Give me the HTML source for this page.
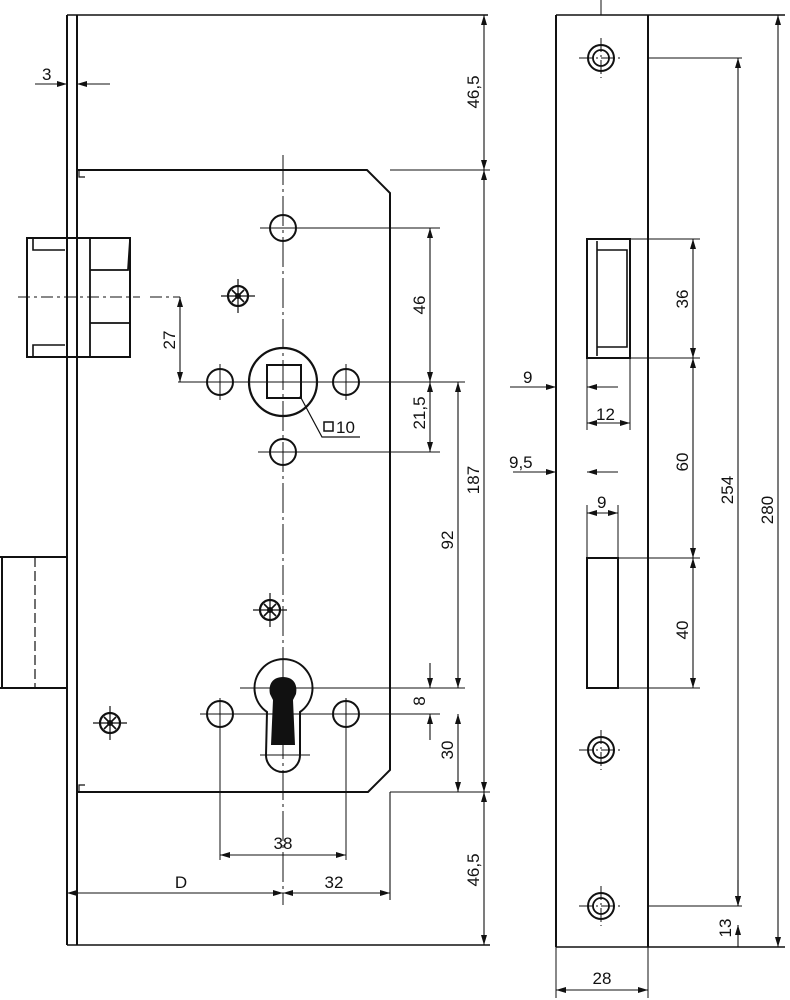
<!DOCTYPE html>
<html><head><meta charset="utf-8"><style>
html,body{margin:0;padding:0;background:#fff;}
svg{display:block;}
text{font-family:"Liberation Sans",sans-serif;font-size:17px;fill:#111;}
</style></head><body>
<svg width="790" height="1000" viewBox="0 0 790 1000" xmlns="http://www.w3.org/2000/svg">
<defs>
<marker id="a" viewBox="0 0 10 6" refX="10" refY="3" markerWidth="10" markerHeight="6" orient="auto-start-reverse" markerUnits="userSpaceOnUse"><path d="M0,0 L10,3 L0,6 z" fill="#111"/></marker>
<g id="scr"><circle r="10" fill="none" stroke="#111" stroke-width="2.2"/><path d="M-6,-6 L6,6 M-6,6 L6,-6" stroke="#111" stroke-width="1.6"/><circle r="3" fill="#111"/><path d="M-17,0 H17 M0,-17 V17" stroke="#111" stroke-width="1.2"/></g>
<g id="sh"><circle r="13" fill="none" stroke="#111" stroke-width="2"/><circle r="8" fill="none" stroke="#111" stroke-width="1.8"/><path d="M-22,0 H22 M0,-20 V20" stroke="#111" stroke-width="1" stroke-dasharray="14 3 2 3"/></g>
</defs>
<g stroke="#111" fill="none">
<!-- faceplate -->
<path d="M67,15 V945 M77,15 V945" stroke-width="2"/>
<path d="M67,15 H488 M67,945 H490" stroke-width="1.6"/>
<!-- body -->
<path d="M77,170 H367 L390,193 V770 L368,792 H77" stroke-width="2"/>
<path d="M79,170 v7 h6 M79,792 v-7 h6" stroke-width="1.2"/>
<path d="M390,170 H490 M390,792 H490" stroke-width="1"/>
<!-- latch -->
<path d="M27,238 H130 V357 H27 Z" stroke-width="2"/>
<path d="M90,238 V357 M90,270 H128 L130,240 M90,323 H130" stroke-width="1.8"/>
<path d="M33,238 V250 H65 M33,357 V345 H65" stroke-width="1.6"/>
<path d="M18,297 H140 M150,297 H180" stroke-width="1" stroke-dasharray="12 4 3 4"/>
<!-- deadbolt -->
<path d="M0,557 H67 M0,688 H67 M2,557 V688" stroke-width="2"/>
<path d="M35,557 V688" stroke-width="1.2" stroke-dasharray="10 4"/>
<!-- center lines -->
<path d="M283,155 V905" stroke-width="1" stroke-dasharray="30 4 3 4"/>
<path d="M260,228 H440 M178,382 H465 M258,452 H440 M240,688 H465 M200,714 H440 M260,755 H310" stroke-width="1"/>
<!-- holes -->
<circle cx="283" cy="228" r="13" stroke-width="2"/>
<circle cx="283" cy="452" r="13" stroke-width="2"/>
<circle cx="220" cy="382" r="13" stroke-width="2"/>
<circle cx="346" cy="382" r="13" stroke-width="2"/>
<circle cx="220" cy="714" r="13" stroke-width="2"/>
<circle cx="346" cy="714" r="13" stroke-width="2"/>
<path d="M220,364 V400 M346,364 V400 M220,698 V860 M346,698 V860" stroke-width="1"/>
<!-- spindle -->
<circle cx="283" cy="382" r="34" stroke-width="2.2"/>
<rect x="267" y="365" width="34" height="33" stroke-width="2"/>
<path d="M300,396 L322,437 H360" stroke-width="1.2"/>
<!-- keyhole -->
<path d="M267,712 A29,29 0 1 1 300,712 L300,755 A17,17 0 0 1 266,755 Z" stroke-width="2"/>
</g>
<path d="M283,677 C293,677 298,684 296,694 L293,700 L295,745 H271 L273,700 L270,694 C268,684 273,677 283,677 Z" fill="#111"/>
<use href="#scr" x="238" y="296"/>
<use href="#scr" x="270" y="610"/>
<use href="#scr" x="110" y="723"/>
<!-- dimensions left -->
<g stroke="#111" stroke-width="1.1" fill="none">
<path d="M35,84 H67" marker-end="url(#a)"/><path d="M110,84 H77" marker-end="url(#a)"/>
<path d="M484,15 V170" marker-start="url(#a)" marker-end="url(#a)"/>
<path d="M484,170 V792" marker-start="url(#a)" marker-end="url(#a)"/>
<path d="M484,792 V945" marker-start="url(#a)" marker-end="url(#a)"/>
<path d="M430,228 V382" marker-start="url(#a)" marker-end="url(#a)"/>
<path d="M430,382 V452" marker-start="url(#a)" marker-end="url(#a)"/>
<path d="M458,382 V688" marker-start="url(#a)" marker-end="url(#a)"/>
<path d="M458,714 V792" marker-start="url(#a)" marker-end="url(#a)"/>
<path d="M430,663 V688" marker-end="url(#a)"/><path d="M430,740 V714" marker-end="url(#a)"/>
<path d="M180,297 V382" marker-start="url(#a)" marker-end="url(#a)"/>
<path d="M220,855 H346" marker-start="url(#a)" marker-end="url(#a)"/>
<path d="M67,893 H283" marker-start="url(#a)" marker-end="url(#a)"/>
<path d="M283,893 H390" marker-start="url(#a)" marker-end="url(#a)"/>
<path d="M390,792 V900" />
</g>
<text x="42" y="80" font-size="17">3</text>
<text transform="translate(479,92) rotate(-90)" text-anchor="middle">46,5</text>
<text transform="translate(479,480) rotate(-90)" text-anchor="middle">187</text>
<text transform="translate(479,870) rotate(-90)" text-anchor="middle">46,5</text>
<text transform="translate(425,305) rotate(-90)" text-anchor="middle">46</text>
<text transform="translate(425,413) rotate(-90)" text-anchor="middle">21,5</text>
<text transform="translate(453,540) rotate(-90)" text-anchor="middle">92</text>
<text transform="translate(425,701) rotate(-90)" text-anchor="middle">8</text>
<text transform="translate(453,750) rotate(-90)" text-anchor="middle">30</text>
<text transform="translate(175,340) rotate(-90)" text-anchor="middle">27</text>
<text x="283" y="849" text-anchor="middle">38</text>
<text x="181" y="888" text-anchor="middle">D</text>
<text x="334" y="888" text-anchor="middle">32</text>
<rect x="324" y="422" width="9" height="9" fill="none" stroke="#111" stroke-width="1.5"/>
<text x="336" y="433">10</text>
<!-- strike plate -->
<g stroke="#111" fill="none">
<path d="M556,15 V947 M648,15 V947" stroke-width="2"/>
<path d="M556,15 H785 M556,947 H785" stroke-width="1.6"/>
<path d="M556,947 V998 M648,947 V998" stroke-width="1"/>
<path d="M601,0 V15" stroke-width="1"/>
<path d="M587,239 H630 V358 H587 Z" stroke-width="2"/>
<path d="M597,241 V356 M597,250 H627 V347 H597" stroke-width="1.6"/>
<path d="M630,239 H700 M587,358 H700" stroke-width="1"/>
<path d="M587,558 H618 V688 H587 Z" stroke-width="2"/>
<path d="M618,558 H700 M618,688 H700 M587,558 V505 M618,558 V505 M630,358 V430 M587,358 V430" stroke-width="1"/>
<path d="M648,58 H742 M648,906 H742" stroke-width="1"/>
</g>
<use href="#sh" x="601" y="58"/>
<use href="#sh" x="601" y="750"/>
<use href="#sh" x="601" y="906"/>
<g stroke="#111" stroke-width="1.1" fill="none">
<path d="M693,239 V358" marker-start="url(#a)" marker-end="url(#a)"/>
<path d="M693,358 V558" marker-start="url(#a)" marker-end="url(#a)"/>
<path d="M693,558 V688" marker-start="url(#a)" marker-end="url(#a)"/>
<path d="M738,58 V906" marker-start="url(#a)" marker-end="url(#a)"/>
<path d="M738,880 V906" marker-end="url(#a)"/><path d="M738,947 V925" marker-end="url(#a)"/>
<path d="M778,15 V947" marker-start="url(#a)" marker-end="url(#a)"/>
<path d="M556,990 H648" marker-start="url(#a)" marker-end="url(#a)"/>
<path d="M510,387 H556" marker-end="url(#a)"/><path d="M618,387 H587" marker-end="url(#a)"/>
<path d="M513,472 H556" marker-end="url(#a)"/><path d="M618,472 H587" marker-end="url(#a)"/>
<path d="M587,423 H630" marker-start="url(#a)" marker-end="url(#a)"/>
<path d="M587,513 H618" marker-start="url(#a)" marker-end="url(#a)"/>
</g>
<text x="523" y="383">9</text>
<text x="509" y="468">9,5</text>
<text x="596" y="420">12</text>
<text x="597" y="508">9</text>
<text x="602" y="984" text-anchor="middle">28</text>
<text transform="translate(688,299) rotate(-90)" text-anchor="middle">36</text>
<text transform="translate(688,462) rotate(-90)" text-anchor="middle">60</text>
<text transform="translate(688,630) rotate(-90)" text-anchor="middle">40</text>
<text transform="translate(733,490) rotate(-90)" text-anchor="middle">254</text>
<text transform="translate(773,510) rotate(-90)" text-anchor="middle">280</text>
<text transform="translate(731,928) rotate(-90)" text-anchor="middle">13</text>
</svg>
</body></html>
